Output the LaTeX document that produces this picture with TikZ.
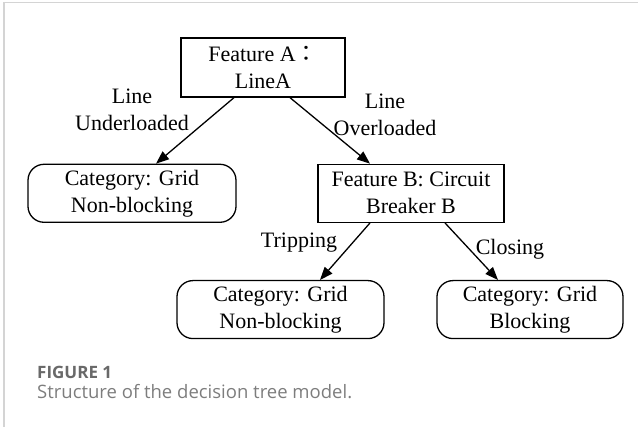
\documentclass[tikz,border=0pt]{standalone}
\usepackage{fontspec}
\setmainfont{Liberation Serif}
\setsansfont{Open Sans}
\newfontfamily\cjkfont{Noto Sans CJK JP}
\usepackage{tikz}
\usetikzlibrary{arrows.meta,positioning}
\definecolor{capgray}{RGB}{105,105,105}
\definecolor{captext}{RGB}{125,125,125}
\definecolor{framegray}{RGB}{212,212,212}

\begin{document}
\begin{tikzpicture}[x=1pt,y=-1pt,
    featbox/.style={draw,line width=1.3pt,minimum height=58pt,inner sep=2pt,
                    align=center,font=\fontsize{22}{27}\selectfont},
    leafbox/.style={featbox,rounded corners=16pt},
    lbl/.style={align=center,inner sep=0pt,font=\fontsize{22}{27}\selectfont},
    arr/.style={-{Triangle[length=13pt,width=10pt]},line width=1.3pt},
  ]
  \useasboundingbox (0,0) rectangle (641,427);
  % panel frame
  \draw[framegray,line width=1.5pt] (4,427) -- (4,2.5) -- (638,2.5);

  \node[featbox,minimum width=164pt,minimum height=59pt] (fa) at (263,67.5)
    {Feature A{\cjkfont ：}\\LineA};
  \node[leafbox,minimum width=208pt,below=66pt of fa,xshift=-131pt] (nb1)
    {Category: Grid\\Non-blocking};
  \node[featbox,minimum width=186pt,below=66pt of fa,xshift=148pt] (fb)
    {Feature B: Circuit\\Breaker B};
  \node[leafbox,minimum width=207pt,below=57pt of fb,xshift=-130.5pt] (nb2)
    {Category: Grid\\Non-blocking};
  \node[leafbox,minimum width=186pt,below=57pt of fb,xshift=119pt] (blk)
    {Category: Grid\\Blocking};

  \draw[arr]([xshift=-29pt]fa.south)--([xshift=24pt]nb1.north);
  \draw[arr]([xshift=27pt]fa.south)--([xshift=-41pt]fb.north);
  \draw[arr]([xshift=-41pt]fb.south)--([xshift=39.5pt]nb2.north);
  \draw[arr]([xshift=34pt]fb.south)--([xshift=-32pt]blk.north);

  % branch labels
  \node[lbl] (under) at (132,110) {Line\\Underloaded};
  \node[lbl] (over) at (385,115) {Line\\Overloaded};
  \node[lbl] (trip) at (299,243) {Tripping};
  \node[lbl] (close) at (510,249) {Closing};

  % caption
  \node[anchor=west,inner sep=0pt,text=capgray,
    font=\sffamily\bfseries\fontsize{17}{20}\selectfont] (fig) at (37,372) {FIGURE 1};
  \node[anchor=west,inner sep=0pt,text=captext,
    font=\sffamily\fontsize{18.5}{22}\selectfont] (cap) at (37,392)
    {Structure of the decision tree model.};
\end{tikzpicture}
\end{document}
